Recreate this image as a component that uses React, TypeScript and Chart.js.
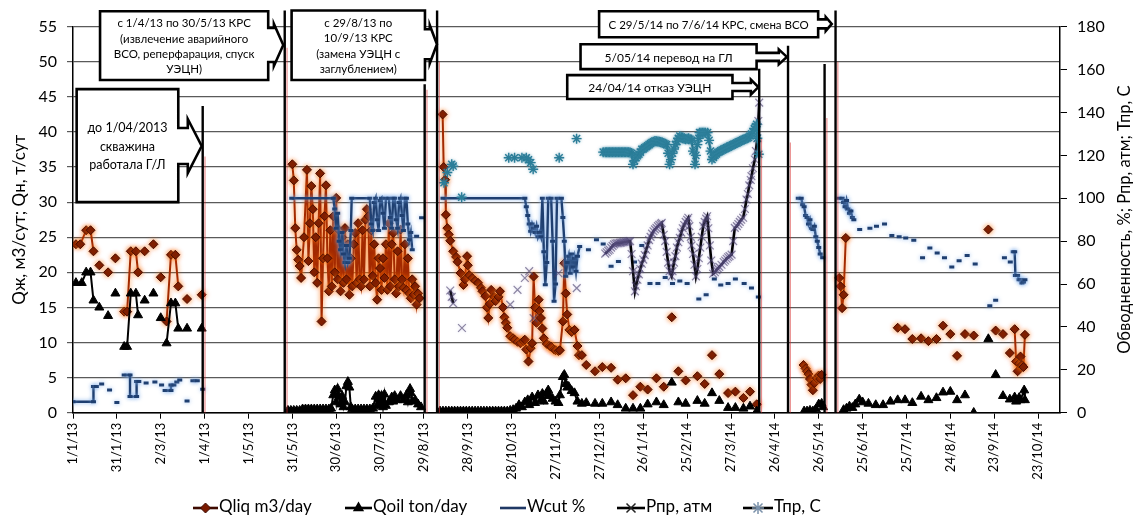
import React, { useEffect, useRef } from "react";
import { Chart, registerables } from "chart.js";

Chart.register(...registerables);

type Pt = [number, number];

// ---------- axes ----------
const xTickDays = [0, 30, 60, 90, 120, 150, 180, 210, 240, 270, 300, 330, 360, 390, 420, 450, 480, 510, 540, 570, 600, 630, 660];
const xTickLabels = ["1/1/13", "31/1/13", "2/3/13", "1/4/13", "1/5/13", "31/5/13", "30/6/13", "30/7/13", "29/8/13", "28/9/13", "28/10/13", "27/11/13", "27/12/13", "26/1/14", "25/2/14", "27/3/14", "26/4/14", "26/5/14", "25/6/14", "25/7/14", "24/8/14", "23/9/14", "23/10/14"];
const xMaxDay = 675;
const leftMax = 55;
const rightMax = 180;

// ---------- Qliq (m3/day), day offset from 1/1/13 ----------
const qliqRuns: Pt[][] = [
  [[2, 24], [5, 24], [9, 26], [12, 26], [14, 23]],
  [[35, 14.4], [37, 14.4], [39.5, 23], [43, 23], [44.5, 20]],
  [[64, 13], [67, 22.5], [70, 22.5], [72, 18]],
  [[150, 35.4], [151, 33.1], [152, 26.3], [153, 23.2], [154, 21.8], [155, 20.9], [156, 19.2], [158, 25], [160, 34.6], [161, 21.6], [162, 27], [163, 32.3], [164, 29], [165, 20], [166, 25], [167, 18.5], [168, 27], [169, 34.1], [170, 13], [171, 22], [172, 28], [173, 32.4], [174, 22], [175, 17.3], [176, 26], [177, 18], [178, 28], [179, 20], [180, 30.6], [181, 19], [182, 26], [183, 17.3], [184, 25], [185, 18.5], [186, 26.3], [187, 19], [188, 24], [189, 16.8], [190, 22], [191, 18], [192, 24], [193, 25.6], [194, 18.5], [195, 27], [196, 19], [197, 18], [198, 26], [199, 19], [200, 27.5], [201, 29], [202, 28], [203, 18], [204, 26], [205, 19.5], [206, 24], [207, 18.5], [208, 16.1], [209, 22], [210, 20.6], [211, 17.5], [212, 22], [213, 19.2], [214, 24], [215, 17.5], [216, 27], [217, 18], [218, 24], [219, 25.6], [220, 19], [221, 17], [222, 23], [223, 18], [224, 26.1], [225, 19], [226, 17.8], [227, 24], [228, 17.5], [229, 22], [230, 17], [231, 16.3], [232, 19], [233, 16.8], [234, 18], [235, 15.4], [236, 17], [237, 16.3]],
  [[252.8, 42.5], [253.5, 35], [254.5, 33.2], [255, 28.2], [256, 26.3], [257, 25.4], [258, 24.5], [260, 23], [262, 22.2], [263, 21.5], [265, 19.9], [267, 18.2], [268, 19], [269.5, 22.3], [270, 21], [271, 19.6], [273, 19.2], [275, 18.8], [277, 18.5], [279, 17.8], [280, 17.3], [282, 16.6], [283, 15], [284, 13.5], [285, 15.5], [286, 17.5], [288, 16.5], [289, 15.9], [291, 16.5], [292, 17.3], [294, 15], [295, 13.6], [296, 12.8], [297, 12.1], [299, 10.9], [301, 10.6], [302, 10.4], [304, 10.1], [306, 9.9], [308, 10.2], [309, 10.4], [310, 9], [311.5, 7.3], [313, 9.2], [314, 9.9], [315, 19.4], [316, 15], [317, 12.8], [318.5, 16.1], [319, 14.5], [320, 13.5], [321, 12], [322, 10.6], [324, 9.8], [326, 9.5], [327, 9.4], [329, 9], [330, 8.9], [332, 8.8], [333, 8.9], [335, 13], [336, 21.3], [337, 17], [338, 14], [339.5, 11.8], [341, 11.5], [343, 11.8], [345, 9.5], [346, 8.2], [348, 8.2]],
  [[499.6, 6.8], [501, 6.3], [502, 5.9], [503, 5.5], [504, 4.8], [505, 4], [506, 3.2], [507, 4.2], [508.6, 4.9], [510, 5.3], [511, 4.8], [512, 5.4]],
  [[524, 19.2], [525, 18], [526, 14.9], [527, 16.8], [528.5, 24.9]],
  [[644, 11.9], [645, 7.3], [646, 5.9], [647, 7], [648, 8], [649, 6.8], [650, 6.5], [651, 11.1]],
];
const qliqDots: Pt[] = [
  [18, 21], [24, 20], [29, 22], [49, 23], [55, 24], [60, 19.3], [78, 16.2], [88, 16.8],
  [351, 6.8], [357, 5.9], [362, 6.5], [368, 6.4], [372.5, 4.7], [378, 4.9], [383, 2.5], [388, 3.7], [393, 3.3], [399, 4.9], [404, 3.7], [409.5, 13.6], [414, 5.9], [419, 4.6], [427, 5.2], [432, 4.1], [437, 8.2], [442, 5.5], [448, 2.8], [453, 3], [458.5, 2.1], [463, 3], [467.6, 1.2],
  [564, 12.1], [569, 11.9], [574, 10.5], [580, 10.6], [585, 10.2], [590.5, 10.5], [595, 12.4], [600, 11.2], [604.6, 8.1], [610, 11.2], [616, 11], [626, 26.1], [631, 11.7], [636, 11.2], [640.7, 8.5],
];

// ---------- Qoil (ton/day) ----------
const qoilRuns: Pt[][] = [
  [[2, 18.5], [6, 18.5], [9, 20], [12, 20], [14, 16]],
  [[35, 9.4], [37, 9.4], [39.5, 17], [43, 17], [44.5, 13.9]],
  [[64, 9.9], [67, 15.6], [70, 15.6], [72, 12]],
  [[147, 0.3], [149, 0.3], [151, 0.3], [153, 0.3], [155, 0.3], [157, 0.5], [159, 0.5], [161, 0.5], [163, 0.5], [165, 0.5], [167, 0.5], [169, 0.5], [171, 0.5], [173, 0.5], [175, 0.5], [176.5, 0.6], [178, 2.5], [179, 3.2], [180, 1.5], [181, 3.4], [182, 2.2], [183, 1.2], [184, 2.4], [185, 0.8], [186, 1.5], [187, 3.8], [188, 4.4], [189, 3.6], [190, 0.8], [191, 0.5], [193, 0.5], [195, 0.5], [197, 0.5], [199, 0.5], [201, 0.5], [203, 0.5], [205, 0.6], [207, 2.3], [208, 1], [209, 2.5], [210, 1.2], [211, 2.4], [212, 0.8], [213, 2.6], [214, 1], [216, 1.5], [218, 2.2], [219, 1.6], [220, 2.4], [222, 1.8], [224, 2.4], [226, 1.8], [228, 2.5], [229, 1.5], [230.5, 3.4], [231, 2.8], [232, 1.6], [234, 1.8], [236, 1.2], [238, 0.8]],
  [[251, 0.2], [253, 0.2], [255, 0.2], [257, 0.2], [259, 0.2], [261, 0.2], [263, 0.2], [265, 0.2], [267, 0.2], [269, 0.2], [271, 0.2], [273, 0.2], [275, 0.2], [277, 0.2], [279, 0.2], [281, 0.2], [283, 0.2], [285, 0.2], [287, 0.2], [289, 0.2], [291, 0.2], [293, 0.2], [295, 0.2], [297, 0.2], [299, 0.3], [301, 0.4], [303, 0.6], [305, 1.1], [307, 0.8], [309, 1.5], [311, 1.8], [312, 1.1], [314, 2.2], [316, 1.4], [318, 2.5], [320, 1.8], [321, 2.7], [322, 1.6], [324, 2.8], [325, 3.2], [326, 2.4], [328, 2], [330, 1.6], [332, 1.4], [333, 2.5], [335, 5.1], [336, 5.4], [337, 4.1], [338, 3.6], [339, 3.7], [341, 3.1], [343, 2.8], [345, 1.6]],
  [[500, 0.2], [502, 0.2], [504, 0.3], [506, 0.2], [508, 0.5], [510, 1.2], [512, 1.3], [513, 0.8]],
  [[527, 0.4], [529, 0.6], [531, 0.9], [533, 0.7], [535, 1.2], [537.7, 1.9], [540, 1.5]],
  [[644, 2.2], [645, 1.6], [647, 2.1], [648, 1.8], [650.5, 3.2], [651, 1.8]],
];
const qoilDots: Pt[] = [
  [18, 15], [24, 13.8], [29, 17], [49, 16], [55, 17], [60, 13.5], [78, 12], [88, 12],
  [348, 1.3], [351, 1.4], [357, 1.3], [362, 1.3], [368, 1.5], [372.5, 1.1], [378, 0.6], [383, 0.6], [388, 0.6], [393, 1.2], [399, 1.5], [404, 1.1], [409.5, 4.3], [414, 1.5], [419, 1.3], [427, 1.7], [432, 1.3], [437, 2.8], [442, 1.7], [448, 0.7], [453, 0.7], [458.5, 0.6], [463, 0.9], [467.6, 0.2],
  [544, 1.3], [549, 1.1], [554, 1.1], [559, 1.6], [564, 1.8], [569, 1.8], [574, 1.4], [580, 2.3], [585, 1.8], [590.5, 2.1], [595, 2.9], [600, 3], [604.6, 1.8], [610, 2.5], [616, 0], [626, 10.5], [631, 5.4], [636, 2.4], [640.7, 1.9],
];

// ---------- Wcut (%) right axis ----------
const wcutRuns: Pt[][] = [
  [[0, 5.1], [14, 5.1], [14, 12.2], [16, 12.2]],
  [[35, 17.6], [39, 17.6], [39, 7.5], [43.5, 7.5], [43.5, 14.5], [45, 14.5]],
  [[63, 10.3], [67, 10.3], [67, 12.9], [69, 12.9]],
  [[82, 14.9], [85, 14.9]],
  [[149.6, 100], [178, 100], [179, 95], [180, 86], [181, 93], [182, 80], [183, 76], [184, 84], [185, 74], [186, 70], [187, 78], [188, 70], [189, 72], [190, 85], [190.6, 100], [203, 100], [204, 88], [205, 85], [206, 98], [207, 100], [208, 90], [209, 85], [210, 99], [211, 100], [212, 93], [213, 86], [214, 100], [216, 100], [217, 91], [218, 86], [219, 100], [220, 100], [221, 90], [222, 86], [223, 98], [224, 100], [225, 92], [226, 85], [227, 100], [228, 100], [229, 88], [230, 80.7], [231, 84], [232, 76]],
  [[253, 100], [309, 100], [310, 96], [311, 92], [312, 88], [313, 84.6], [314, 88], [315, 86], [316, 84], [317, 87], [318, 82], [319, 84], [320, 82], [321, 100], [322, 75], [323, 59.7], [324, 70], [325, 100], [327, 100], [328, 80], [329, 52], [330, 60], [331, 100], [334, 100], [335, 91], [336, 80], [337, 63.6], [338, 70], [339, 73], [340, 65], [341, 74], [342, 68], [343, 72], [344, 66], [345, 73], [346.5, 77.5]],
  [[496, 100], [498, 100], [499, 97], [500, 96], [501, 92], [502, 91], [503, 88], [504, 90], [505, 86], [506, 85.4], [507, 87], [508, 82], [509, 80], [510, 77], [511, 74], [512.7, 72.2]],
  [[524, 100], [526, 100], [527, 98], [528, 96], [529, 99], [530, 95], [531, 93], [532, 94], [533, 91], [534, 90]],
  [[643, 75], [644, 75], [644.5, 64], [646, 64], [647, 62], [648, 62], [649, 60.5], [650, 61], [651, 62]],
];
const wcutDots: Pt[] = [
  [19.6, 13.4], [25, 10.6], [30, 4.7], [50, 13.8], [56, 14.3], [60.6, 12.9], [71, 14.3], [73, 15.3], [78, 5.5], [88.7, 10.9],
  [235, 82.3], [238.4, 90.9],
  [352.5, 76], [358, 80.7], [362.6, 78.7], [368, 68.3], [373, 70.5], [384, 70.3], [389, 78], [394.6, 60.2], [400, 60.2], [405, 63.1], [410, 60.2], [415, 61.4], [420, 60.2], [428, 53], [433, 55], [438.6, 62.4], [443, 59.6], [448, 60.2], [453, 62.4], [459, 60.2], [464, 58.2], [468.7, 54],
  [538, 85.4], [545, 86], [549.5, 87], [555, 88], [560, 82.6], [565, 82], [569.5, 81.5], [575, 80.4], [581, 72.2], [586, 76.8], [591, 74.5], [596, 72.2], [601, 68], [606, 70.8], [611.5, 73.3], [617, 69.3], [627, 49.9], [631, 52.4], [637, 72.2], [641, 70.3],
];

// ---------- Рпр (атм) right axis ----------
const pprRuns: Pt[][] = [
  [[258, 57], [259, 54], [260, 51]],
  [[364, 74.2], [365, 74.8], [366, 75.5], [367, 76], [368, 77], [369, 77.8], [370, 78.5], [371, 78.9], [372, 79], [373, 79], [374, 79.2], [375, 79.3], [376, 79.5], [377, 79.6], [378, 79.7], [379, 79.8], [380, 79.9], [381, 80], [382, 74], [383, 66], [384.3, 56.6], [385, 59], [386, 62], [387, 64.5], [388, 67], [389, 69.5], [390, 71.4], [391, 73.5], [392, 76], [393, 78], [394, 80.5], [395, 82], [396, 83.5], [397, 84.6], [398, 85.5], [399, 86.2], [400, 87], [401, 87.6], [402, 88], [402.6, 88.5], [404, 83], [405, 80], [406, 75], [407, 70], [408, 66], [409.4, 63.6], [410, 66], [411, 70], [412, 73], [413, 77], [414, 79.5], [415, 81.5], [416, 84], [417, 86], [418, 87.5], [419, 89], [420, 90], [420.8, 90.9], [421.5, 87], [422.5, 82], [423, 78], [424, 74], [425, 69], [426, 63.6], [427, 67], [428, 72], [429, 77], [430, 82], [431, 87], [432, 89], [433, 90.5], [433.7, 91.6], [434.5, 86], [435.5, 78], [436.5, 71], [437.8, 64.8], [439, 65.5], [440, 66.5], [441, 67.2], [442, 68], [443.5, 69], [445, 70.3], [446, 71], [447, 71.8], [448, 72.5], [449, 73], [450.4, 73.7], [451.5, 80], [452.6, 86.2], [454, 87], [455, 88], [456, 89], [457, 90], [458.3, 90.9], [459.5, 95], [460.6, 99.4], [461.5, 102], [462.5, 106], [463.5, 108.5], [464, 110.3], [465, 114], [466.3, 118.1], [467, 122], [468, 128], [468.7, 136], [469.3, 144.6]],
];
const pprDots: Pt[] = [[266, 39.5], [299, 50.4], [304, 57.3], [309, 62.8], [312, 66], [315, 44.1], [332, 65], [344.5, 58.1]];

// ---------- Тпр (C) right axis ----------
const tprRuns: Pt[][] = [
  [[362.6, 121.5], [364, 121.5], [365, 121.5], [366, 121.5], [367, 121.5], [368, 121.5], [369, 121.5], [370, 121.5], [371, 121.5], [372, 121.5], [373, 121.5], [374, 121.5], [375, 121.5], [376, 121.5], [377, 121.5], [378, 121.5], [379, 121.5], [380, 121.5], [381, 121.3], [382, 121], [383, 115.8], [384, 117.5], [385, 119], [386, 119.8], [387, 120.5], [388, 121.5], [389, 122.8], [390, 123], [391, 123.5], [392, 124], [393, 124.5], [394, 125], [395, 125.5], [396, 126], [397, 126.3], [398, 126.7], [399, 126.6], [400, 126.5], [401, 126.3], [402, 126.2], [403, 126], [404, 125.6], [405, 125.3], [406, 125], [407, 121], [408, 115.8], [409, 118], [410, 121], [411, 123], [412, 125], [413, 126.5], [414, 128], [415, 129], [416, 128.5], [417, 128], [418, 127.8], [419, 127.5], [420, 127.8], [421, 128], [422, 127.5], [423, 127], [424, 122], [425.4, 115.8], [426, 120], [427, 125], [428, 128], [428.5, 130.6], [429.5, 130.6], [430.5, 130.6], [431.5, 130.6], [432.5, 130.6], [434, 130.6], [435, 127], [436, 122], [437, 118.1], [438, 119], [439, 120], [440, 120.6], [441, 121.3], [442, 121.7], [443, 122.1], [444, 122.5], [445, 122.8], [446, 123.2], [447, 123.5], [448, 123.8], [449, 124.2], [450, 124.5], [451, 124.8], [452, 125.2], [453, 125.5], [454, 125.8], [455, 126.2], [456, 126.5], [457, 126.8], [458, 127.2], [459, 127.5], [460, 127.8], [461, 128], [462, 128.3], [463, 129], [464, 130], [465, 131], [466, 132.5], [467, 133.5], [467.5, 134.5], [468, 128], [469, 120.5]],
];
const tprDots: Pt[] = [[253.7, 107.2], [256, 112], [259, 115.8], [260, 115], [265.8, 100.5], [298, 118.9], [302, 118.9], [307, 118.9], [310, 118.9], [311.5, 118], [313, 116.6], [314.7, 113.5], [332.5, 118.9], [344.4, 127.8]];

// ---------- event lines (day, top of black line, top of red line; left-axis units) ----------
const eventDays = [88.7, 144.8, 240.5, 249, 469.3, 489, 514, 521.5];
const eventTops = [43.7, 57.3, 46.8, 57.3, 49, 52.3, 49.7, 57.3];
const eventRedTops = [36.5, 52, 46, 50, 39, 38.5, 42, 50];

// ---------- callouts ----------
const calloutTexts = [
  ["до 1/04/2013", "скважина", "работала Г/Л"],
  ["с 1/4/13 по 30/5/13 КРС", "(извлечение аварийного", "ВСО, реперфарация, спуск", "УЭЦН)"],
  ["с 29/8/13 по", "10/9/13 КРС", "(замена УЭЦН с", "заглублением)"],
  ["С 29/5/14 по 7/6/14 КРС, смена ВСО"],
  ["5/05/14 перевод на ГЛ"],
  ["24/04/14 отказ УЭЦН"],
];
const calloutGeom = [
  { box: [2.5, 72, 46.1, 30.0], arrowV: 38.0, shaft: 18, head: 27, shaftEnd: 78.5, tip: 88, font: 12.5, lh: 18.5 },
  { box: [18.5, 133.5, 57.2, 47.4], arrowV: 52.4, shaft: 17, head: 21, shaftEnd: 137.4, tip: 143.8, font: 11.5, lh: 15.3 },
  { box: [149.5, 240.7, 57.3, 47.4], arrowV: 52.5, shaft: 15, head: 19, shaftEnd: 244, tip: 248.9, font: 11.5, lh: 15.5 },
  { box: [359.8, 509.6, 57.2, 53.5], arrowV: 55.4, shaft: 4.5, head: 7, shaftEnd: 514.8, tip: 518.9, font: 11.5, lh: 15 },
  { box: [347.1, 467.5, 52.5, 48.96], arrowV: 50.7, shaft: 4, head: 7.5, shaftEnd: 482.7, tip: 488.2, font: 12, lh: 15 },
  { box: [338, 451, 48.1, 44.7], arrowV: 46.4, shaft: 4, head: 7.5, shaftEnd: 463.6, tip: 468.7, font: 12, lh: 15 },
];

const seriesLabels = ["Qliq m3/day", "Qoil ton/day", "Wcut %", "Рпр, атм", "Тпр, С"];
const leftTitle = "Qж, м3/сут; Qн, т/сут";
const rightTitle = "Обводненность, %; Рпр, атм; Тпр, С";

const FONT = "Lato, 'Open Sans', sans-serif";

const seriesGlow: ({ color: string; blur: number } | null)[] = [
  { color: "rgba(250,110,0,0.8)", blur: 5 },
  null,
  { color: "rgba(130,175,235,0.9)", blur: 4 },
  { color: "rgba(150,135,205,0.5)", blur: 3 },
  { color: "rgba(60,140,170,0.6)", blur: 3 },
];

const legendItems = [
  { x0: 193, x1: 218, tx: 219, line: "#3d0a00", marker: "diamond", fill: "#7a1a00", stroke: "#3d0a00", r: 5 },
  { x0: 345, x1: 372, tx: 373, line: "#000", marker: "triangle", fill: "#000", stroke: "#000", r: 6.5 },
  { x0: 500, x1: 526, tx: 527, line: "#1f3864", marker: "", fill: "", stroke: "", r: 0 },
  { x0: 617, x1: 645, tx: 646, line: "#000", marker: "x", fill: "", stroke: "#222", r: 6 },
  { x0: 743, x1: 773, tx: 774, line: "#000", marker: "star", fill: "", stroke: "#7b92ab", r: 6 },
];

function toPoints(runs: Pt[][], dots: Pt[]) {
  const groups: Pt[][] = [...runs, ...dots.map((d) => [d])];
  groups.sort((a, b) => a[0][0] - b[0][0]);
  const out: { x: number; y: number | null }[] = [];
  groups.forEach((g) => {
    g.forEach(([x, y]) => out.push({ x, y }));
    out.push({ x: g[g.length - 1][0], y: null });
  });
  return out;
}

function drawMarker(ctx: CanvasRenderingContext2D, kind: string, x: number, y: number, r: number, fill: string, stroke: string) {
  ctx.save();
  ctx.beginPath();
  ctx.lineWidth = 1.5;
  if (kind === "diamond") {
    ctx.moveTo(x, y - r); ctx.lineTo(x + r, y); ctx.lineTo(x, y + r); ctx.lineTo(x - r, y); ctx.closePath();
    ctx.fillStyle = fill; ctx.fill(); ctx.strokeStyle = stroke; ctx.lineWidth = 1; ctx.stroke();
  } else if (kind === "triangle") {
    ctx.moveTo(x, y - r); ctx.lineTo(x + r * 0.866, y + r * 0.5); ctx.lineTo(x - r * 0.866, y + r * 0.5); ctx.closePath();
    ctx.fillStyle = fill; ctx.fill();
  } else if (kind === "x" || kind === "star") {
    const d = r * 0.75;
    ctx.moveTo(x - d, y - d); ctx.lineTo(x + d, y + d);
    ctx.moveTo(x + d, y - d); ctx.lineTo(x - d, y + d);
    if (kind === "star") { ctx.moveTo(x, y - r); ctx.lineTo(x, y + r); ctx.moveTo(x - r, y); ctx.lineTo(x + r, y); }
    ctx.strokeStyle = stroke; ctx.stroke();
  }
  ctx.restore();
}

const glowPlugin = {
  id: "glow",
  beforeDatasetDraw(chart: any, args: any) {
    const g = seriesGlow[args.index];
    if (!g) return;
    chart.ctx.save();
    chart.ctx.shadowColor = g.color;
    chart.ctx.shadowBlur = g.blur;
  },
  afterDatasetDraw(chart: any, args: any) {
    if (seriesGlow[args.index]) chart.ctx.restore();
  },
};

const decorPlugin = {
  id: "decor",
  afterDraw(chart: any) {
    const ctx: CanvasRenderingContext2D = chart.ctx;
    const xs = chart.scales.x;
    const ys = chart.scales.y;
    const X = (d: number) => xs.getPixelForValue(d);
    const Y = (v: number) => ys.getPixelForValue(v);
    const bottom = chart.chartArea.bottom;

    // event lines
    ctx.save();
    eventDays.forEach((d, i) => {
      const x = X(d);
      ctx.strokeStyle = "rgba(215,50,50,0.55)";
      ctx.lineWidth = 1.2;
      ctx.beginPath(); ctx.moveTo(x + 2.3, Y(eventRedTops[i])); ctx.lineTo(x + 2.3, bottom); ctx.stroke();
      ctx.strokeStyle = "#000";
      ctx.lineWidth = 2.4;
      ctx.beginPath(); ctx.moveTo(x, Y(eventTops[i])); ctx.lineTo(x, bottom); ctx.stroke();
    });
    ctx.restore();

    // callouts
    calloutGeom.forEach((g, i) => {
      const L = X(g.box[0]), R = X(g.box[1]), T = Y(g.box[2]), B = Y(g.box[3]);
      const c = Y(g.arrowV), se = X(g.shaftEnd), tip = X(g.tip);
      ctx.save();
      ctx.beginPath();
      ctx.moveTo(L, T); ctx.lineTo(R, T); ctx.lineTo(R, c - g.shaft); ctx.lineTo(se, c - g.shaft);
      ctx.lineTo(se, c - g.head); ctx.lineTo(tip, c); ctx.lineTo(se, c + g.head); ctx.lineTo(se, c + g.shaft);
      ctx.lineTo(R, c + g.shaft); ctx.lineTo(R, B); ctx.lineTo(L, B); ctx.closePath();
      ctx.fillStyle = "#fff"; ctx.fill();
      ctx.lineWidth = 2.6; ctx.strokeStyle = "#000"; ctx.lineJoin = "miter"; ctx.stroke();
      ctx.fillStyle = "#000";
      ctx.font = `${g.font}px ${FONT}`;
      ctx.textAlign = "center"; ctx.textBaseline = "middle";
      const lines = calloutTexts[i];
      const cx = (L + R) / 2, cy = (T + B) / 2 + 1;
      lines.forEach((t, k) => ctx.fillText(t, cx, cy + (k - (lines.length - 1) / 2) * g.lh));
      ctx.restore();
    });

    // axis titles
    const midY = (chart.chartArea.top + chart.chartArea.bottom) / 2;
    ctx.save();
    ctx.fillStyle = "#000"; ctx.textAlign = "center"; ctx.textBaseline = "middle";
    ctx.font = `17px ${FONT}`;
    ctx.translate(19.5, midY); ctx.rotate(-Math.PI / 2); ctx.fillText(leftTitle, 0, 0);
    ctx.restore();
    ctx.save();
    ctx.fillStyle = "#000"; ctx.textAlign = "center"; ctx.textBaseline = "middle";
    ctx.font = `16.5px ${FONT}`;
    ctx.translate(1125, midY); ctx.rotate(-Math.PI / 2); ctx.fillText(rightTitle, 0, 0);
    ctx.restore();

    // legend
    const ly = 508;
    legendItems.forEach((it, i) => {
      ctx.save();
      ctx.strokeStyle = it.line; ctx.lineWidth = 2.6;
      ctx.beginPath(); ctx.moveTo(it.x0, ly); ctx.lineTo(it.x1, ly); ctx.stroke();
      if (it.marker) drawMarker(ctx, it.marker, (it.x0 + it.x1) / 2, ly, it.r, it.fill, it.stroke);
      ctx.fillStyle = "#000"; ctx.font = `17px ${FONT}`; ctx.textAlign = "left"; ctx.textBaseline = "middle";
      ctx.fillText(seriesLabels[i], it.tx, ly - 1);
      ctx.restore();
    });
  },
};

export default function App() {
  const ref = useRef<HTMLCanvasElement | null>(null);

  useEffect(() => {
    if (!ref.current) return;
    const tickFont = { family: FONT, size: 16 };
    const chart = new Chart(ref.current, {
      type: "line",
      data: {
        datasets: [
          {
            label: seriesLabels[0], data: toPoints(qliqRuns, qliqDots) as any, yAxisID: "y",
            borderColor: "#a32a00", borderWidth: 2,
            pointStyle: "rectRot", pointRadius: 4.5, pointBackgroundColor: "#6e1400", pointBorderColor: "#4a0d00", pointBorderWidth: 1,
            order: 5,
          },
          {
            label: seriesLabels[1], data: toPoints(qoilRuns, qoilDots) as any, yAxisID: "y",
            borderColor: "#000", borderWidth: 2,
            pointStyle: "triangle", pointRadius: 5.2, pointBackgroundColor: "#000", pointBorderColor: "#000", pointBorderWidth: 1,
            order: 4,
          },
          {
            label: seriesLabels[2], data: toPoints(wcutRuns, wcutDots) as any, yAxisID: "y1",
            borderColor: "#1f3f70", borderWidth: 2.4,
            pointStyle: "line", pointRadius: 2.5, pointBorderColor: "#1f3f70", pointBackgroundColor: "#1f3f70", pointBorderWidth: 3,
            order: 3,
          },
          {
            label: seriesLabels[3], data: toPoints(pprRuns, pprDots) as any, yAxisID: "y1",
            borderColor: "#000", borderWidth: 2.6,
            pointStyle: "crossRot", pointRadius: 5.5, pointBorderColor: "rgba(70,62,105,0.6)", pointBackgroundColor: "rgba(70,62,105,0.6)", pointBorderWidth: 1.2,
            order: 2,
          },
          {
            label: seriesLabels[4], data: toPoints(tprRuns, tprDots) as any, yAxisID: "y1",
            borderColor: "#1d6278", borderWidth: 2,
            pointStyle: "star", pointRadius: 5, pointBorderColor: "#2b7d98", pointBackgroundColor: "#2b7d98", pointBorderWidth: 1.4,
            order: 1,
          },
        ],
      },
      options: {
        animation: false,
        responsive: false,
        devicePixelRatio: 1,
        events: [],
        spanGaps: false,
        layout: { padding: { top: 26.7, left: 0, right: 0, bottom: 0 } },
        plugins: { legend: { display: false }, tooltip: { enabled: false } },
        elements: { line: { tension: 0 } },
        scales: {
          x: {
            type: "linear", min: 0, max: xMaxDay,
            afterBuildTicks: (s: any) => { s.ticks = xTickDays.map((v) => ({ value: v })); },
            afterFit: (s: any) => { s.height = 102.3; },
            ticks: {
              autoSkip: false, minRotation: 90, maxRotation: 90, padding: 4,
              font: { family: FONT, size: 13 }, color: "#000",
              callback: (_v: any, i: number) => xTickLabels[i],
            },
            grid: { drawOnChartArea: false, drawTicks: true, tickLength: 6, color: "#000", lineWidth: 1 },
            border: { color: "#000", width: 1.5 },
          },
          y: {
            type: "linear", position: "left", min: 0, max: leftMax,
            afterFit: (s: any) => { s.width = 73; },
            ticks: { stepSize: 5, padding: 10, font: tickFont, color: "#000" },
            grid: { color: "#5a5a5a", lineWidth: 1.2, tickLength: 6 },
            border: { color: "#000", width: 1.5 },
          },
          y1: {
            type: "linear", position: "right", min: 0, max: rightMax,
            afterFit: (s: any) => { s.width = 75; },
            ticks: { stepSize: 20, padding: 10, font: tickFont, color: "#000" },
            grid: { drawOnChartArea: false, tickLength: 7, color: "#000" },
            border: { color: "#000", width: 1.5 },
          },
        },
      } as any,
      plugins: [glowPlugin, decorPlugin],
    });
    return () => chart.destroy();
  }, []);

  return (
    <div style={{ position: "absolute", left: 0, top: 0, width: 1135, height: 515, background: "#fff" }}>
      <canvas ref={ref} width={1135} height={515} style={{ width: 1135, height: 515, display: "block" }} />
    </div>
  );
}
